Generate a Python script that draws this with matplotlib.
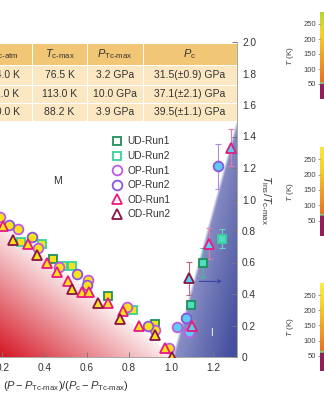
import numpy as np
import matplotlib
matplotlib.use("Agg")
import matplotlib.pyplot as plt
from matplotlib.lines import Line2D
from matplotlib.patches import Rectangle

plt.rcParams['font.family'] = ['Liberation Sans', 'DejaVu Sans']
plt.rcParams['mathtext.fontset'] = 'custom'
plt.rcParams['mathtext.rm'] = 'Liberation Sans'
plt.rcParams['mathtext.it'] = 'Liberation Sans:italic'
plt.rcParams['mathtext.bf'] = 'Liberation Sans:bold'

# ---------------- data ----------------
# metallic side (yellow filled) and insulating side (cyan filled)
ud1_m_x = [0.44, 0.70, 0.925]
ud1_m_y = [0.62, 0.39, 0.21]
ud1_i_x = [1.095, 1.15]
ud1_i_y = [0.33, 0.60]
ud1_i_e = [0.0, 0.095]

ud2_m_x = [0.29, 0.39, 0.49, 0.53, 0.82]
ud2_m_y = [0.73, 0.72, 0.58, 0.58, 0.30]
ud2_i_x = [1.24]
ud2_i_y = [0.75]
ud2_i_e = [0.06]

op1_m_x = [0.19, 0.276, 0.37, 0.47, 0.605, 0.79, 0.925, 0.99]
op1_m_y = [0.89, 0.81, 0.69, 0.57, 0.49, 0.32, 0.17, 0.06]
op1_i_x = [1.03, 1.085]
op1_i_y = [0.19, 0.16]
op1_i_e = [0.02, 0.03]

op2_m_x = [0.23, 0.34, 0.555, 0.60, 0.89]
op2_m_y = [0.84, 0.76, 0.53, 0.455, 0.20]
op2_i_x = [1.07, 1.22]
op2_i_y = [0.25, 1.21]
op2_i_e = [0.03, 0.145]

od1_m_x = [0.205, 0.32, 0.41, 0.46, 0.51, 0.58, 0.61, 0.70, 0.77, 0.85, 0.97]
od1_m_y = [0.83, 0.72, 0.60, 0.54, 0.48, 0.41, 0.41, 0.34, 0.29, 0.20, 0.06]
od1_i_x = [1.10, 1.18, 1.285]
od1_i_y = [0.20, 0.72, 1.33]
od1_i_e = [0.03, 0.10, 0.12]

od2_m_x = [0.25, 0.366, 0.53, 0.655, 0.76, 0.925, 1.005]
od2_m_y = [0.74, 0.65, 0.43, 0.34, 0.24, 0.14, 0.0]
od2_i_x = [1.086]
od2_i_y = [0.50]
od2_i_e = [0.105]

series_names = ['UD-Run1', 'UD-Run2', 'OP-Run1', 'OP-Run2', 'OD-Run1', 'OD-Run2']

# summary table
col_heads = [r'$T_{\mathrm{c\text{-}atm}}$', r'$T_{\mathrm{c\text{-}max}}$',
             r'$P_{\mathrm{Tc\text{-}max}}$', r'$P_{\mathrm{c}}$']
tc_atm = ['74.0 K', '91.0 K', '80.0 K']
tc_max = ['76.5 K', '113.0 K', '88.2 K']
p_tcmax = ['3.2 GPa', '10.0 GPa', '3.9 GPa']
p_c = ['31.5(\u00b10.9) GPa', '37.1(\u00b12.1) GPa', '39.5(\u00b11.1) GPa']

x_ticks = [0.2, 0.4, 0.6, 0.8, 1.0, 1.2]
y_ticks = [0, 0.2, 0.4, 0.6, 0.8, 1.0, 1.2, 1.4, 1.6, 1.8, 2.0]
temp_ticks = [50, 100, 150, 200, 250]
# onset of the low-temperature band in each temperature map (K)
band_edges = [50, 65, 60]

# ---------------- figure ----------------
W, H = 324, 400
fig = plt.figure(figsize=(W / 100, H / 100), dpi=100)


def fx(px):
    return px / W


def fy(py):
    return 1 - py / H


ax_l, ax_r, ax_t, ax_b = -40, 236.5, 42, 357
ax = fig.add_axes([fx(ax_l), fy(ax_b), (ax_r - ax_l) / W, (ax_b - ax_t) / H])
XMAX, YMAX = 1.31, 2.0
ax.set_xlim(0, XMAX)
ax.set_ylim(0, YMAX)

# background shading: metallic dome (red) and insulating wedge (blue)
nx, ny = 700, 900
xs = np.linspace(0, XMAX, nx)
ys = np.linspace(0, YMAX, ny)
X, Y = np.meshgrid(xs, ys)

d = 1.07 - 1.04 * X - Y
t = np.clip(0.05 + d / 0.92, 0, 1)[..., None]
red = np.array([212, 20, 34]) / 255
rgb_red = (1 - t) * 1.0 + t * red
a_red = np.clip(d / 0.02, 0, 1)

xb = 1.003 + 0.203 * Y
db = X - xb
tb = np.clip(0.55 * (X - 1.0) / 0.3 + 0.5 * (1 - Y / 1.5), 0, 1)[..., None]
light = np.array([214, 214, 238]) / 255
dark = np.array([70, 80, 160]) / 255
rgb_blue = (1 - tb) * light + tb * dark
a_blue = np.clip(db / 0.015, 0, 1)

rgb = np.where((db > 0)[..., None], rgb_blue, rgb_red)
alpha = np.maximum(a_red * (db <= 0), a_blue)
img = np.dstack([rgb, alpha])
ax.imshow(img, origin='lower', extent=(0, XMAX, 0, YMAX), aspect='auto',
          interpolation='bilinear', zorder=0)

# markers
yellow = '#f8e21c'
cyan_sq = '#4fdcc0'
cyan = '#5ccdf0'
styles = {
    'UD-Run1': dict(marker='s', ms=6.2, mec='#1f8f5c', ecol='#3cbf9a'),
    'UD-Run2': dict(marker='s', ms=6.2, mec='#36d39a', ecol='#5fd7b8'),
    'OP-Run1': dict(marker='o', ms=7.0, mec='#be5ae6', ecol='#c48ae6'),
    'OP-Run2': dict(marker='o', ms=7.0, mec='#8a55e0', ecol='#b08ae0'),
    'OD-Run1': dict(marker='^', ms=7.8, mec='#e8197e', ecol='#e77ab0'),
    'OD-Run2': dict(marker='^', ms=7.8, mec='#8a1445', ecol='#b56a8a'),
}
series = [
    ('UD-Run1', ud1_m_x, ud1_m_y, ud1_i_x, ud1_i_y, ud1_i_e, cyan_sq),
    ('UD-Run2', ud2_m_x, ud2_m_y, ud2_i_x, ud2_i_y, ud2_i_e, cyan_sq),
    ('OP-Run1', op1_m_x, op1_m_y, op1_i_x, op1_i_y, op1_i_e, cyan),
    ('OP-Run2', op2_m_x, op2_m_y, op2_i_x, op2_i_y, op2_i_e, cyan),
    ('OD-Run1', od1_m_x, od1_m_y, od1_i_x, od1_i_y, od1_i_e, cyan),
    ('OD-Run2', od2_m_x, od2_m_y, od2_i_x, od2_i_y, od2_i_e, cyan),
]
for z, (name, mx, my, ix, iy, ie, ifc) in enumerate(series):
    st = styles[name]
    ax.errorbar(ix, iy, yerr=ie, fmt='none', ecolor=st['ecol'], elinewidth=0.8,
                capsize=2.2, capthick=0.8, zorder=3)
    ax.plot(mx, my, ls='none', marker=st['marker'], ms=st['ms'], mfc=yellow,
            mec=st['mec'], mew=1.3, zorder=4 + z * 0.1)
    ax.plot(ix, iy, ls='none', marker=st['marker'], ms=st['ms'], mfc=ifc,
            mec=st['mec'], mew=1.3, zorder=4 + z * 0.1)

# arrow in the insulating region
ax.annotate('', xy=(1.255, 0.48), xytext=(1.12, 0.48),
            arrowprops=dict(arrowstyle='->', color='#3c46a0', lw=0.8,
                            mutation_scale=6), zorder=3)

ax.text(0.46, 1.12, 'M', ha='center', va='center', fontsize=7.5, color='#333333')
ax.text(1.19, 0.15, 'I', ha='center', va='center', fontsize=7, color='white')

# axes styling
ax.yaxis.tick_right()
ax.set_xticks(x_ticks)
ax.set_xticklabels([f'{v:.1f}' for v in x_ticks])
ax.set_yticks(y_ticks)
ax.set_yticklabels(['0' if v == 0 else f'{v:.1f}' for v in y_ticks])
ax.tick_params(axis='both', direction='in', length=3.5, width=0.7,
               colors='#777777', labelcolor='#333333', labelsize=7.3, pad=4)
for side in ['left', 'top']:
    ax.spines[side].set_visible(False)
for side in ['right', 'bottom']:
    ax.spines[side].set_color('#999999')
    ax.spines[side].set_linewidth(0.6)

fig.text(fx(66), fy(386),
         r'$(P-P_{\mathrm{Tc\text{-}max}})/(P_{\mathrm{c}}-P_{\mathrm{Tc\text{-}max}})$',
         ha='center', va='center', fontsize=8, color='#333333')
fig.text(fx(266), fy(200), r'$T_{\mathrm{ins}}/T_{\mathrm{c\text{-}max}}$',
         rotation=-90, ha='center', va='center', fontsize=8, color='#333333')

# table at the top of the axes
col_edges = [-23, 32, 87, 143, 237]
row_edges = [43, 65, 84.5, 103, 121]
head_col = '#f1c675'
body_col = '#fbe7c2'


def to_ax(px, py):
    return ((px - ax_l) / (ax_r - ax_l), (ax_b - py) / (ax_b - ax_t))


columns = [tc_atm, tc_max, p_tcmax, p_c]
for ci in range(4):
    x0, x1 = col_edges[ci], col_edges[ci + 1]
    for ri in range(4):
        y0, y1 = row_edges[ri], row_edges[ri + 1]
        a0 = to_ax(x0, y1)
        a1 = to_ax(x1, y0)
        ax.add_patch(Rectangle(a0, a1[0] - a0[0], a1[1] - a0[1],
                               transform=ax.transAxes, facecolor=head_col if ri == 0 else body_col,
                               edgecolor='white', lw=0.7, zorder=2, clip_on=False))
        cx, cy = to_ax((x0 + x1) / 2, (y0 + y1) / 2)
        if ri == 0:
            ax.text(cx, cy, col_heads[ci], transform=ax.transAxes, ha='center',
                    va='center', fontsize=8, color='#333333', zorder=2.6)
        else:
            ax.text(cx, cy, columns[ci][ri - 1], transform=ax.transAxes, ha='center',
                    va='center', fontsize=7.5, color='#333333', zorder=2.6)

# legend
handles = [Line2D([], [], ls='none', marker=styles[n]['marker'], ms=styles[n]['ms'],
                  mfc='none', mec=styles[n]['mec'], mew=1.3) for n in series_names]
fig.legend(handles, series_names, loc='upper left', bbox_to_anchor=(fx(112), fy(136.5)),
           frameon=False, borderpad=0, borderaxespad=0, handlelength=1.0,
           handletextpad=0.5, labelspacing=0.45, fontsize=7.3, labelcolor='#333333')

# temperature maps on the right edge
panel_tops = [12, 147, 283]
panel_bots = [99, 236, 371]
top_colors = [(178, 214, 52), (250, 232, 58), (250, 238, 70)]
maroon = (146, 30, 88)
green = (128, 205, 125)
orange = (236, 112, 30)
yel = (246, 212, 42)
TMAX = 290
for k in range(3):
    top, bot = panel_tops[k], panel_bots[k]
    axp = fig.add_axes([fx(320), fy(bot), 0.1, (bot - top) / H])
    T = np.linspace(0, TMAX, 300)
    e = band_edges[k]
    stops_T = [0, e, e + 0.1, e + 6, e + 6.1, 220, TMAX]
    stops_c = [maroon, maroon, green, green, orange, yel, top_colors[k]]
    col = np.stack([np.interp(T, stops_T, [c[i] for c in stops_c]) for i in range(3)], axis=-1) / 255
    strip = np.repeat(col[:, None, :], 10, axis=1)
    axp.imshow(strip, origin='lower', extent=(0, 1, 0, TMAX), aspect='auto')
    axp.set_xlim(0, 1)
    axp.set_ylim(0, TMAX)
    axp.set_xticks([])
    axp.set_yticks(temp_ticks)
    axp.tick_params(axis='y', length=1.5, width=0.5, pad=1.5, labelsize=5.5,
                    colors='#777777', labelcolor='#444444')
    for s in axp.spines.values():
        s.set_visible(False)
    fig.text(fx(291), fy((top + bot) / 2), r'$T$ (K)', rotation=90, ha='center',
             va='center', fontsize=6, color='#444444')

fig.savefig('out.png', dpi=100)
